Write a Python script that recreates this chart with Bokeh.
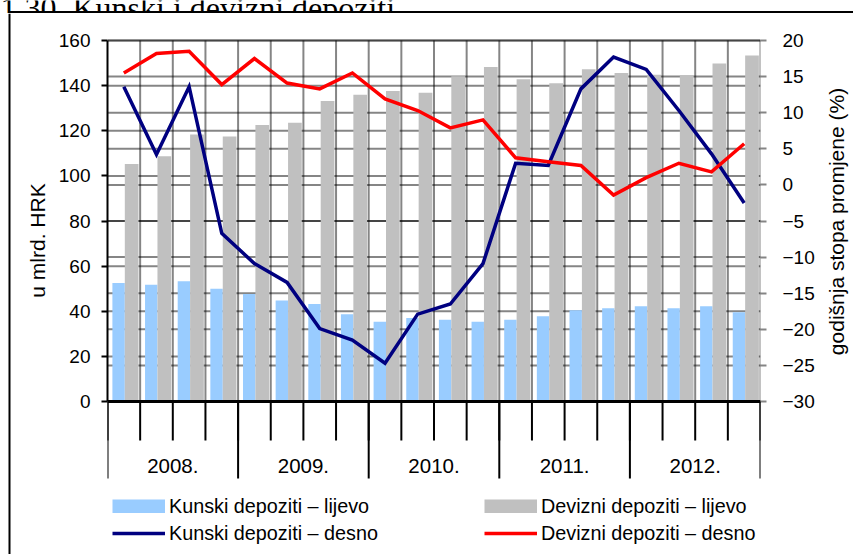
import math
from bokeh.plotting import figure
from bokeh.layouts import column, row
from bokeh.models import Range1d, LinearAxis, FixedTicker, Span, Legend, LegendItem
from bokeh.embed import file_html
from bokeh.resources import INLINE
from bokeh.core.properties import value

# ---------------- data ----------------
title = "1.30. Kunski i devizni depoziti"
years = ["2008.", "2009.", "2010.", "2011.", "2012."]
quarters = ["I.", "II.", "III.", "IV."]
periods = [y + " " + q for y in years for q in quarters]

# u mlrd. HRK (left axis)
kunski_mlrd = [52.5, 51.7, 53.3, 50.0, 47.7, 44.8, 43.2, 38.7, 35.3, 37.0,
               36.2, 35.4, 36.2, 37.8, 40.4, 41.3, 42.2, 41.3, 42.2, 39.6]
devizni_mlrd = [105.3, 108.7, 118.3, 117.4, 122.6, 123.6, 133.2, 136.0, 137.6, 136.8,
                144.1, 148.2, 142.8, 141.1, 147.3, 145.6, 144.8, 144.6, 149.8, 153.3]
# godisnja stopa promjene (%) (right axis)
kunski_pct = [13.6, 4.2, 13.6, -6.7, -10.9, -13.5, -19.9, -21.5, -24.7, -17.9,
              -16.5, -10.9, 3.0, 2.7, 13.3, 17.7, 16.0, 10.3, 4.3, -2.5]
devizni_pct = [15.5, 18.2, 18.5, 13.9, 17.5, 14.1, 13.3, 15.5, 11.9, 10.3,
               7.9, 9.0, 3.75, 3.2, 2.7, -1.4, 1.0, 3.0, 1.8, 5.7]

left_ticks = [0, 20, 40, 60, 80, 100, 120, 140, 160]
right_ticks = [-30, -25, -20, -15, -10, -5, 0, 5, 10, 15, 20]
left_title = "u mlrd. HRK"
right_title = "godišnja stopa promjene (%)"
legend_labels = ["Kunski depoziti – lijevo", "Kunski depoziti – desno",
                 "Devizni depoziti – lijevo", "Devizni depoziti – desno"]

# ---------------- layout constants (page px) ----------------
PAGE_W, PAGE_H = 853, 554
TOP_H = 13
ROW_H = PAGE_H - TOP_H
LEFT_W, RIGHT_W = 50, 28
MAIN_W = PAGE_W - LEFT_W - RIGHT_W
FRAME_L, FRAME_R = 107, 760
PLOT_TOP, ZERO = 40, 401

FONT = "Liberation Sans"
GRID_ALPHA = 0.48          # black at this alpha reads as mid grey on white


def strip(w, h):
    f = figure(width=w, height=h, x_range=Range1d(0, w), y_range=Range1d(0, h),
               x_axis_location=None, y_axis_location=None, output_backend="svg",
               toolbar_location=None, min_border_left=0, min_border_right=0,
               min_border_top=0, min_border_bottom=0)
    f.outline_line_color = None
    f.xgrid.visible = False
    f.ygrid.visible = False
    return f


# ---- top strip: title (cut by the picture edge) and top frame line ----
f_top = strip(PAGE_W, TOP_H)
f_top.text(x=[0], y=[TOP_H - 7], text=[title], text_align="left", text_baseline="alphabetic",
           text_font=value("Liberation Serif"), text_font_size=value("32px"), text_color="black")
f_top.segment(x0=[8], y0=[TOP_H - 11.5], x1=[PAGE_W], y1=[TOP_H - 11.5],
              line_color="black", line_width=2)
f_top.segment(x0=[9], y0=[TOP_H - 10.5], x1=[9], y1=[0], line_color="black", line_width=2)

# ---- left strip: frame line and left axis title ----
f_left = strip(LEFT_W, ROW_H)
f_left.segment(x0=[9], y0=[0], x1=[9], y1=[ROW_H], line_color="black", line_width=2)
f_left.text(x=[37], y=[ROW_H - (240 - TOP_H)], text=[left_title], angle=math.pi / 2,
            text_align="center", text_baseline="middle", text_font=value(FONT),
            text_font_size=value("21px"), text_color="black")

# ---- right strip: right axis title ----
f_right = strip(RIGHT_W, ROW_H)
f_right.text(x=[836 - (LEFT_W + MAIN_W)], y=[ROW_H - (221 - TOP_H)], text=[right_title],
             angle=math.pi / 2, text_align="center", text_baseline="middle",
             text_font=value(FONT), text_font_size=value("21px"), text_color="black")

# ---- main chart ----
n = len(periods)
TOP_Y, ZERO_Y = PLOT_TOP - TOP_H, ZERO - TOP_H
L_MIN, L_MAX = left_ticks[0], left_ticks[-1]
R_MIN, R_MAX = right_ticks[0], right_ticks[-1]
px_left = (ZERO_Y - TOP_Y) / (L_MAX - L_MIN)
px_right = (ZERO_Y - TOP_Y) / (R_MAX - R_MIN)


def cy(canvas_y):
    return (ZERO_Y - canvas_y) / px_left


p = figure(width=MAIN_W, height=ROW_H, x_range=Range1d(0, n),
           y_range=Range1d(L_MIN - (ROW_H - ZERO_Y) / px_left, L_MAX + TOP_Y / px_left),
           x_axis_location=None, y_axis_location="left",
           output_backend="svg", toolbar_location=None,
           min_border_left=FRAME_L - LEFT_W, min_border_right=LEFT_W + MAIN_W - FRAME_R,
           min_border_top=0, min_border_bottom=0)
p.extra_y_ranges = {"right": Range1d(R_MIN - (ROW_H - ZERO_Y) / px_right,
                                     R_MAX + TOP_Y / px_right)}
p.outline_line_color = None
p.xgrid.visible = False
p.ygrid.visible = False

# grid lines behind the bars
bounds = list(range(n + 1))
p.segment(x0=[0] * (len(left_ticks) - 1), y0=left_ticks[1:], x1=[n] * (len(left_ticks) - 1),
          y1=left_ticks[1:], line_color="black", line_alpha=GRID_ALPHA, line_width=2)
p.segment(x0=[0] * (len(right_ticks) - 1), y0=right_ticks[1:], x1=[n] * (len(right_ticks) - 1),
          y1=right_ticks[1:], line_color="black", line_alpha=GRID_ALPHA, line_width=2,
          y_range_name="right")
p.segment(x0=bounds[1:], y0=[L_MIN] * n, x1=bounds[1:], y1=[L_MAX] * n,
          line_color="black", line_alpha=GRID_ALPHA, line_width=2)

# bars
xk = [i + 0.34 for i in range(n)]
xd = [i + 0.74 for i in range(n)]
bar_k = p.vbar(x=xk, top=kunski_mlrd, bottom=0, width=0.38, fill_color="#99CCFF", line_color=None)
bar_d = p.vbar(x=xd, top=devizni_mlrd, bottom=0, width=0.42, fill_color="#C0C0C0", line_color=None)

# lines (right axis)
xc = [i + 0.5 for i in range(n)]
line_k = p.line(x=xc, y=kunski_pct, y_range_name="right", line_color="#000080",
                line_width=3.5, line_join="miter")
line_d = p.line(x=xc, y=devizni_pct, y_range_name="right", line_color="#FF0000",
                line_width=3.5, line_join="miter")

# x axis line, category ticks and year labels
p.add_layout(Span(location=0, dimension="width", line_color="black", line_width=3))
p.segment(x0=bounds, y0=[0] * (n + 1), x1=bounds, y1=[cy(ZERO_Y + 39)] * (n + 1),
          line_color="black", line_width=2)
ybounds = bounds[::len(quarters)]
p.segment(x0=ybounds, y0=[0] * len(ybounds), x1=ybounds, y1=[cy(ZERO_Y + 77)] * len(ybounds),
          line_color="black", line_width=2)
ycenters = [b + len(quarters) / 2 for b in ybounds[:-1]]
p.text(x=ycenters, y=[cy(465 - TOP_H)] * len(years), text=years, text_align="center",
       text_baseline="middle", text_font=value(FONT), text_font_size=value("20.5px"),
       text_color="black")

# left axis
ax = p.yaxis[0]
ax.ticker = FixedTicker(ticks=left_ticks)
ax.bounds = (L_MIN, L_MAX)
ax.axis_line_color = "black"
ax.axis_line_width = 2
ax.major_tick_line_color = "black"
ax.major_tick_line_width = 2
ax.major_tick_out = 6
ax.major_tick_in = 0
ax.minor_tick_line_color = None
ax.major_label_text_font = FONT
ax.major_label_text_font_size = "19px"
ax.major_label_text_color = "black"
ax.major_label_standoff = 11

# right axis
ar = LinearAxis(y_range_name="right", ticker=FixedTicker(ticks=right_ticks), bounds=(R_MIN, R_MAX),
                axis_line_color=None, major_tick_line_color="black",
                major_tick_line_alpha=GRID_ALPHA,
                major_tick_line_width=2, major_tick_out=6, major_tick_in=0,
                minor_tick_line_color=None, major_label_text_font=FONT,
                major_label_text_font_size="19px", major_label_text_color="black",
                major_label_standoff=16)
p.add_layout(ar, "right")

# legend
sw_k = p.line(x=[-10], y=[-1000], line_color="#99CCFF", line_width=14, line_cap="butt")
sw_d = p.line(x=[-10], y=[-1000], line_color="#C0C0C0", line_width=14, line_cap="butt")
items = [
    LegendItem(label=legend_labels[0], renderers=[bar_k, sw_k]),
    LegendItem(label=legend_labels[1], renderers=[line_k]),
    LegendItem(label=legend_labels[2], renderers=[bar_d, sw_d]),
    LegendItem(label=legend_labels[3], renderers=[line_d]),
]
legend = Legend(items=items, ncols=2, location=(5, 9.5), glyph_width=53, glyph_height=14,
                label_standoff=4, spacing=4, padding=0, margin=0, label_width=311,
                border_line_color=None, background_fill_alpha=0,
                label_text_font=FONT, label_text_font_size="19.8px", label_text_color="black")
p.add_layout(legend)

layout = column(f_top, row(f_left, p, f_right))
open("out.html", "w").write(file_html(layout, INLINE))
